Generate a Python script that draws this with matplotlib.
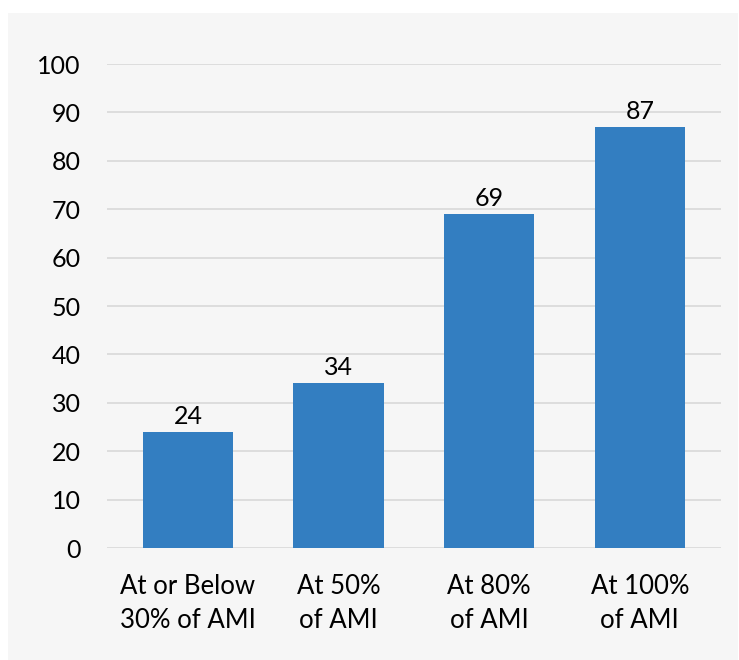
import matplotlib.pyplot as plt
from matplotlib.patches import Rectangle

categories = ["At or Below\n30% of AMI", "At 50%\nof AMI", "At 80%\nof AMI", "At 100%\nof AMI"]
values = [24, 34, 69, 87]
yticks = [0, 10, 20, 30, 40, 50, 60, 70, 80, 90, 100]

plt.rcParams['font.family'] = ['Lato', 'DejaVu Sans']

fig = plt.figure(figsize=(7.39, 6.6), dpi=100, facecolor='white')
# light gray card behind the chart
fig.patches.append(Rectangle((8 / 739, 0), 730 / 739, 1 - 13 / 660,
                             transform=fig.transFigure, facecolor='#f6f6f6',
                             edgecolor='none', zorder=-10))

ax = fig.add_axes([107 / 739, 1 - 548 / 660, (721 - 107) / 739, (548 - 64) / 660])
ax.set_facecolor('none')

x = range(len(categories))
bars = ax.bar(x, values, width=0.6, color='#337ec1', zorder=3)
for b, v in zip(bars, values):
    ax.annotate(str(v), (b.get_x() + b.get_width() / 2, v), xytext=(0, 3),
                textcoords='offset points', ha='center', va='bottom',
                fontsize=18, color='black')

ax.set_xlim(-0.538, len(categories) - 0.461)
ax.set_ylim(0, 100)
ax.set_yticks(yticks)
ax.set_xticks(list(x))
ax.set_xticklabels(categories, fontsize=18.5, linespacing=1.45)
ax.tick_params(axis='y', length=0, pad=19, labelsize=18)
ax.tick_params(axis='x', length=0, pad=19)
ax.grid(axis='y', color='#d9d9d9', linewidth=1.2, zorder=0)
for s in ax.spines.values():
    s.set_visible(False)

fig.savefig('out.png', dpi=100, facecolor=fig.get_facecolor())
